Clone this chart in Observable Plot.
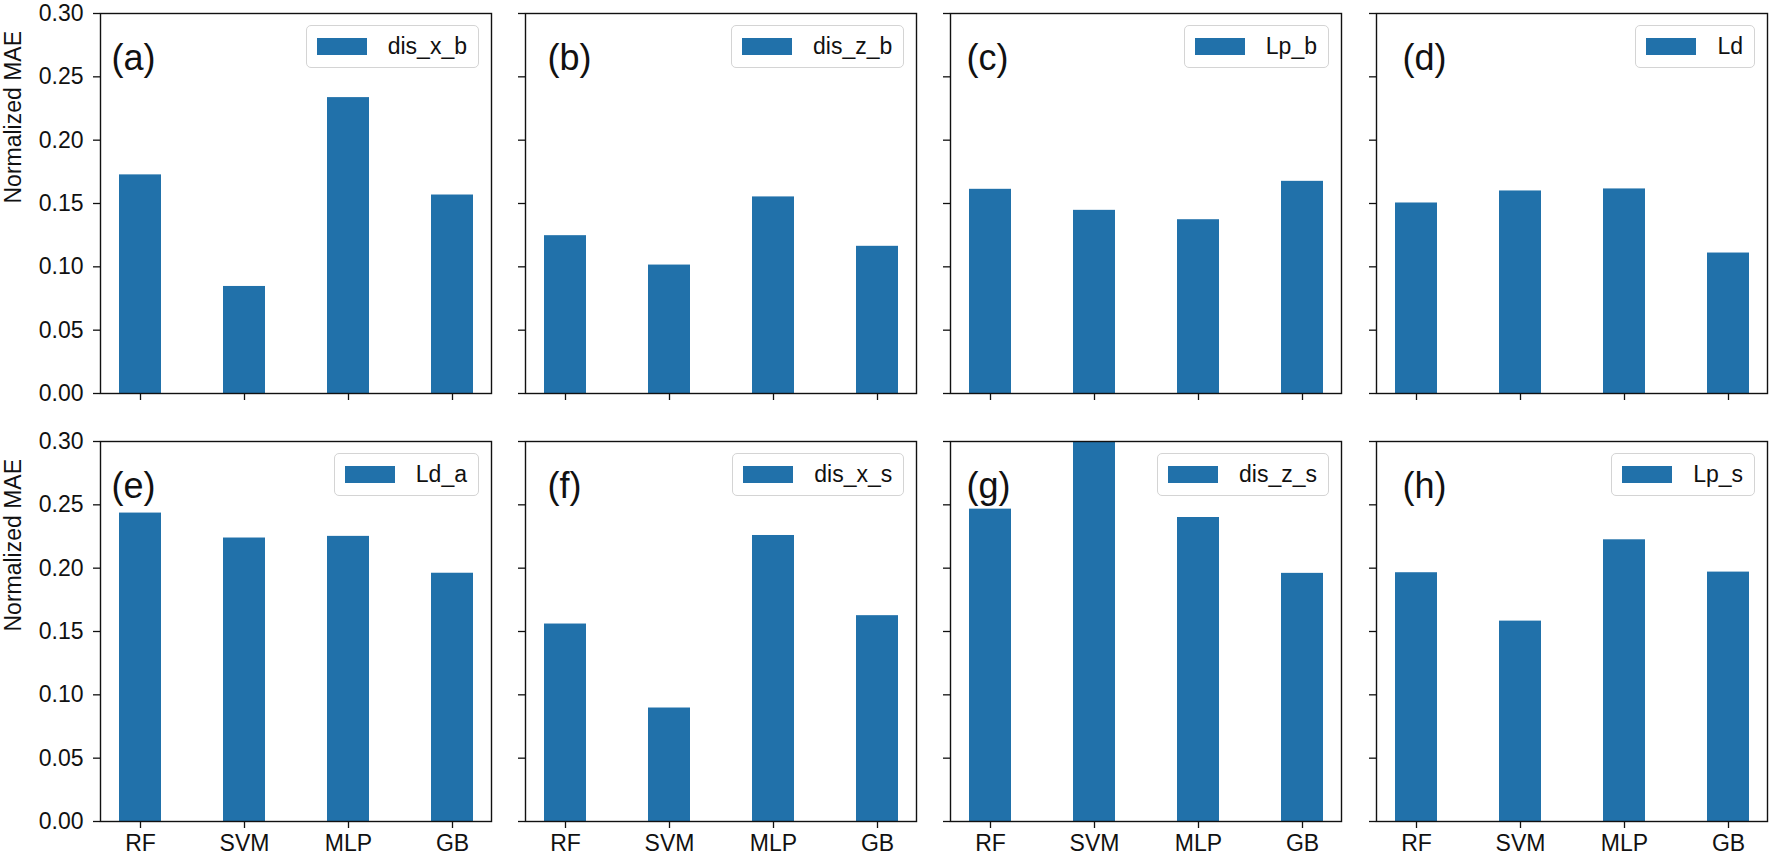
<!DOCTYPE html>
<html>
<head>
<meta charset="utf-8">
<script src="https://cdn.jsdelivr.net/npm/d3@7"></script>
<script src="https://cdn.jsdelivr.net/npm/@observablehq/plot@0.6"></script>
<style>
  html, body { margin: 0; padding: 0; background: white; }
  #chart { position: relative; width: 1772px; height: 858px; font-family: "Liberation Sans", Arial, sans-serif; }
  .panel { position: absolute; }
  .legend { position: absolute; display: flex; align-items: center; box-sizing: border-box; height: 43px;
            border: 1px solid #d4d4d4; border-radius: 5px; background: rgba(255,255,255,0.8);
            padding: 0 11px 0 10px; font-size: 23px; color: #111; white-space: nowrap; }
  .legend .patch { display: inline-block; width: 50px; height: 17px; margin-right: 21px; }
</style>
</head>
<body>
<div id="chart"></div>
<script>
// ---- data ----
const models = ["RF", "SVM", "MLP", "GB"];
const panelLabels = ["(a)", "(b)", "(c)", "(d)", "(e)", "(f)", "(g)", "(h)"];
const seriesNames = ["dis_x_b", "dis_z_b", "Lp_b", "Ld", "Ld_a", "dis_x_s", "dis_z_s", "Lp_s"];
const dis_x_b = [0.1726, 0.0845, 0.2336, 0.1567];
const dis_z_b = [0.1246, 0.1014, 0.1552, 0.1162];
const Lp_b    = [0.1612, 0.1446, 0.1372, 0.1675];
const Ld      = [0.1504, 0.1599, 0.1615, 0.1109];
const Ld_a    = [0.2435, 0.2238, 0.2251, 0.1960];
const dis_x_s = [0.1559, 0.0896, 0.2258, 0.1625];
const dis_z_s = [0.2466, 0.3000, 0.2400, 0.1959];
const Lp_s    = [0.1964, 0.1582, 0.2224, 0.1969];
const seriesValues = [dis_x_b, dis_z_b, Lp_b, Ld, Ld_a, dis_x_s, dis_z_s, Lp_s];
const yTicks = [0, 0.05, 0.10, 0.15, 0.20, 0.25, 0.30];
const yTickLabels = ["0.00", "0.05", "0.10", "0.15", "0.20", "0.25", "0.30"];
const yTitle = "Normalized MAE";

// ---- layout / style ----
const barColor = "#2171aa";
const frameW = 391, frameH = 380;
const colLeft = [100, 525.3, 950, 1376];
const rowTop = [13, 441];
const labelDx = [11, 22, 16, 26];
const font = "'Liberation Sans', Arial, sans-serif";

const chart = document.getElementById("chart");

seriesValues.forEach((vals, i) => {
  const row = Math.floor(i / 4), col = i % 4;
  const ml = col === 0 ? 100 : 30, mr = 6;
  const mt = row === 0 ? 13 : 12, mb = row === 0 ? 25 : 40;
  const width = ml + frameW + mr, height = mt + frameH + mb;
  const data = models.map((m, k) => ({model: m, value: vals[k]}));

  const marks = [
    Plot.barY(data, {x: "model", y: "value", fill: barColor, clip: true}),
    Plot.axisY({ticks: yTicks, tickSize: 7, tickPadding: 10, strokeWidth: 1.3,
      tickFormat: col === 0 ? (d => yTickLabels[yTicks.findIndex(t => Math.abs(t - d) < 1e-9)]) : (() => ""),
      label: null, fontSize: 23}),
    Plot.axisX({tickSize: 7, tickPadding: 6, strokeWidth: 1.3,
      tickFormat: row === 1 ? (d => d) : (() => ""), label: null, fontSize: 23}),
    Plot.frame({stroke: "#111", strokeWidth: 1.4}),
    Plot.text([panelLabels[i]], {frameAnchor: "top-left", dx: labelDx[col], dy: 31,
      textAnchor: "start", fontSize: 36, fill: "#111"})
  ];
  if (col === 0) {
    marks.push(Plot.text([yTitle], {frameAnchor: "left", dx: -86.7, rotate: -90, fontSize: 23, fill: "#111"}));
  }

  const svg = Plot.plot({
    width, height,
    marginLeft: ml, marginRight: mr, marginTop: mt, marginBottom: mb,
    x: {type: "band", domain: models, paddingInner: 0.6, paddingOuter: 0.17, align: 0.5},
    y: {domain: [0, 0.3]},
    style: {fontFamily: font, fontSize: "23px", color: "#111", background: "transparent", overflow: "visible"},
    marks
  });

  const wrap = document.createElement("div");
  wrap.className = "panel";
  wrap.style.left = (colLeft[col] - ml) + "px";
  wrap.style.top = (rowTop[row] - mt) + "px";
  wrap.style.width = width + "px";
  wrap.style.height = height + "px";
  wrap.appendChild(svg);

  const legend = document.createElement("div");
  legend.className = "legend";
  legend.style.right = (mr + 12) + "px";
  legend.style.top = (mt + 12) + "px";
  const patch = document.createElement("span");
  patch.className = "patch";
  patch.style.background = barColor;
  const txt = document.createElement("span");
  txt.textContent = seriesNames[i];
  legend.appendChild(patch);
  legend.appendChild(txt);
  wrap.appendChild(legend);

  chart.appendChild(wrap);
});
</script>
</body>
</html>
